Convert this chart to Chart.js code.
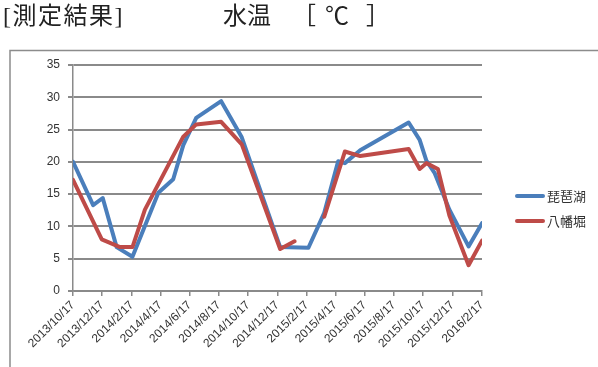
<!DOCTYPE html>
<html>
<head>
<meta charset="utf-8">
<script src="https://cdn.jsdelivr.net/npm/chart.js@4/dist/chart.umd.min.js"></script>
<style>
  html, body { margin: 0; padding: 0; background: #fff; }
  #wrap { position: relative; width: 598px; height: 367px; }
</style>
</head>
<body>
<div id="wrap"><canvas id="c" width="598" height="367"></canvas></div>
<script>
// Measurement dates and water temperatures (°C)
const biwakoDates = ['2013/10/17','2013/11/28','2013/12/18','2014/1/16','2014/2/18','2014/4/13','2014/5/14','2014/6/4','2014/7/1','2014/8/22','2014/10/4','2014/12/23','2015/2/20','2015/3/25','2015/4/23','2015/5/7','2015/6/8','2015/9/17','2015/10/10','2015/10/24','2015/11/10','2015/12/11','2016/1/20','2016/2/17'];
const biwakoTemp = [20.0, 13.3, 14.4, 6.8, 5.3, 15.2, 17.3, 22.6, 26.8, 29.4, 23.8, 6.8, 6.7, 12.1, 20.1, 19.8, 21.8, 26.1, 23.4, 20.2, 18.3, 12.6, 6.9, 10.5];

const hachimanDates = ['2013/10/17','2013/12/16','2014/1/23','2014/2/18','2014/3/16','2014/6/4','2014/7/1','2014/8/22','2014/10/4','2014/12/23','2015/1/22','2015/2/20','2015/3/25','2015/5/7','2015/6/8','2015/9/17','2015/10/10','2015/10/24','2015/11/17','2015/12/11','2016/1/20','2016/2/17'];
const hachimanTemp = [17.2, 8.0, 6.8, 6.8, 12.6, 23.9, 25.8, 26.2, 22.7, 6.5, 7.7, null, 11.5, 21.6, 20.9, 22.0, 18.9, 19.8, 18.9, 11.7, 4.0, 7.8];

const seriesNames = ['琵琶湖', '八幡堀'];
const seriesColors = ['#4A7EBB', '#BE4B48'];

// Date axis tick labels (every two months)
const tickLabels = ['2013/10/17','2013/12/17','2014/2/17','2014/4/17','2014/6/17','2014/8/17','2014/10/17','2014/12/17','2015/2/17','2015/4/17','2015/6/17','2015/8/17','2015/10/17','2015/12/17','2016/2/17'];
const yTicks = { min: 0, max: 35, step: 5 };

const START = Date.UTC(2013, 9, 17);
function dayOf(s) {
  const [y, m, d] = s.split('/').map(Number);
  return (Date.UTC(y, m - 1, d) - START) / 86400000;
}
const labelAt = {};
tickLabels.forEach(l => { labelAt[dayOf(l)] = l; });

const gridColor = '#8a8a8a';
const textColor = '#333333';
const axisFont = 'Liberation Sans, Arial, sans-serif';
const cjkFont = '"Noto Sans CJK JP", sans-serif';

const pageDecor = {
  id: 'pageDecor',
  beforeDraw(chart) {
    const ctx = chart.ctx;
    ctx.save();
    ctx.strokeStyle = '#8c8c8c';
    ctx.lineWidth = 1.5;
    ctx.beginPath();
    ctx.moveTo(10, 367);
    ctx.lineTo(10, 50.5);
    ctx.lineTo(598, 50.5);
    ctx.stroke();
    ctx.restore();
  },
  afterDraw(chart) {
    const ctx = chart.ctx;
    ctx.save();
    ctx.fillStyle = '#222';
    ctx.textBaseline = 'middle';
    ctx.font = '24px "Liberation Serif", "Noto Sans CJK JP", serif';
    ctx.letterSpacing = '1.5px';
    ctx.fillText('[測定結果]', 3, 18);
    ctx.letterSpacing = '0px';
    ctx.fillText('水温', 223, 18);
    ctx.fillText('［', 292, 18);
    ctx.fillText('℃', 325, 18);
    ctx.fillText('］', 366, 18);

    // legend
    ctx.font = '13px ' + cjkFont;
    ctx.lineCap = 'round';
    const rows = [196, 221];
    seriesNames.forEach((name, i) => {
      ctx.strokeStyle = seriesColors[i];
      ctx.lineWidth = 4;
      ctx.beginPath();
      ctx.moveTo(517, rows[i]);
      ctx.lineTo(543, rows[i]);
      ctx.stroke();
      ctx.fillStyle = textColor;
      ctx.fillText(name, 547, rows[i]);
    });
    ctx.restore();
  }
};

new Chart(document.getElementById('c'), {
  type: 'line',
  data: {
    datasets: [
      {
        label: seriesNames[0],
        data: biwakoDates.map((d, i) => ({ x: dayOf(d), y: biwakoTemp[i] })),
        borderColor: seriesColors[0],
        backgroundColor: seriesColors[0],
        borderWidth: 4,
        borderJoinStyle: 'round',
        borderCapStyle: 'round',
        pointRadius: 0,
        tension: 0,
        order: 1
      },
      {
        label: seriesNames[1],
        data: hachimanDates.map((d, i) => ({ x: dayOf(d), y: hachimanTemp[i] })),
        borderColor: seriesColors[1],
        backgroundColor: seriesColors[1],
        borderWidth: 4,
        borderJoinStyle: 'round',
        borderCapStyle: 'round',
        pointRadius: 0,
        tension: 0,
        spanGaps: false,
        order: 0
      }
    ]
  },
  options: {
    responsive: false,
    animation: false,
    devicePixelRatio: 1,
    layout: { padding: { top: 65, right: 116, left: 0, bottom: 0 } },
    plugins: { legend: { display: false }, tooltip: { enabled: false } },
    scales: {
      x: {
        type: 'linear',
        min: 0,
        max: dayOf(tickLabels[tickLabels.length - 1]),
        afterBuildTicks(scale) {
          scale.ticks = tickLabels.map(l => ({ value: dayOf(l) }));
        },
        afterFit(scale) { scale.height = 76; },
        ticks: {
          autoSkip: false,
          minRotation: 45,
          maxRotation: 45,
          padding: 2,
          color: textColor,
          font: { family: axisFont, size: 12 },
          callback: v => labelAt[v]
        },
        grid: { drawOnChartArea: false, drawTicks: true, tickLength: 5, color: gridColor, lineWidth: 1.5 },
        border: { color: gridColor, width: 1.5 }
      },
      y: {
        min: yTicks.min,
        max: yTicks.max,
        afterFit(scale) { scale.width = 73; },
        ticks: {
          stepSize: yTicks.step,
          padding: 8,
          color: textColor,
          font: { family: axisFont, size: 12 }
        },
        grid: { color: gridColor, lineWidth: 2, tickLength: 5 },
        border: { color: gridColor, width: 1.5 }
      }
    }
  },
  plugins: [pageDecor]
});
</script>
</body>
</html>
